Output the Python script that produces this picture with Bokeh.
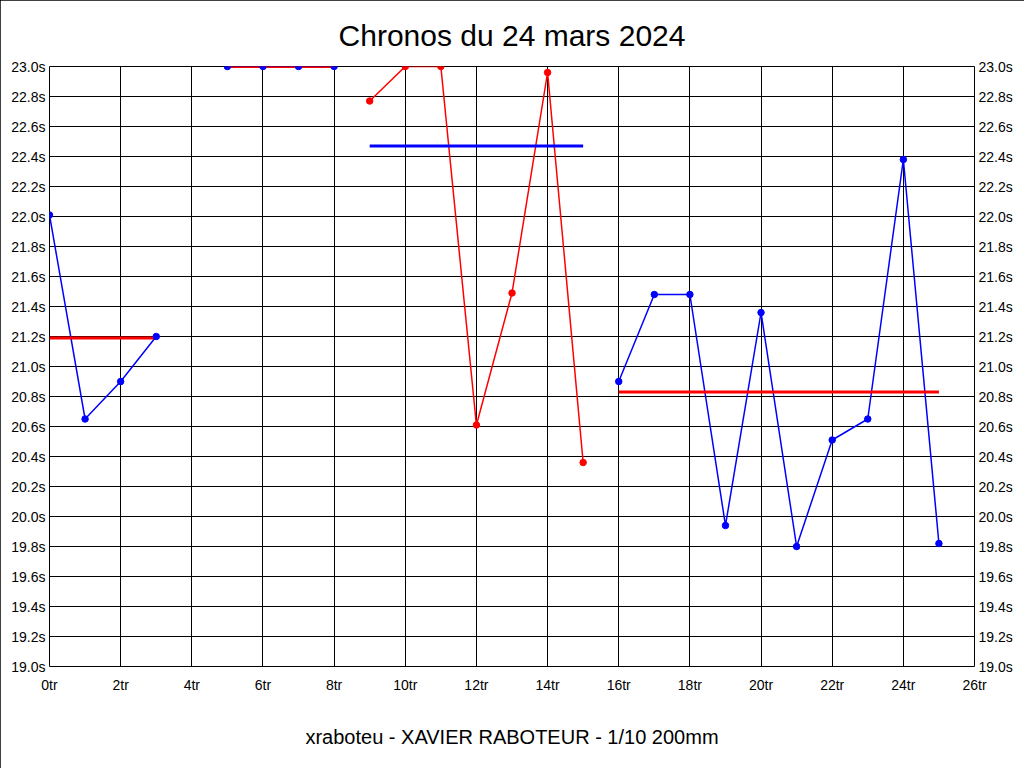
from bokeh.plotting import figure
from bokeh.models import Range1d, LinearAxis, FixedTicker, PrintfTickFormatter
from bokeh.embed import file_html
from bokeh.resources import INLINE

# ---- data ----
x_ticks = [0, 2, 4, 6, 8, 10, 12, 14, 16, 18, 20, 22, 24, 26]
y_ticks = [19.0, 19.2, 19.4, 19.6, 19.8, 20.0, 20.2, 20.4, 20.6, 20.8,
           21.0, 21.2, 21.4, 21.6, 21.8, 22.0, 22.2, 22.4, 22.6, 22.8, 23.0]

s1_x = [0, 1, 2, 3]
s1_y = [22.01, 20.65, 20.90, 21.20]
s1_avg = 21.19

s2_x = [5, 6, 7, 8]
s2_y = [23.0, 23.0, 23.0, 23.0]
s2_avg = 23.0

s3_x = [9, 10, 11, 12, 13, 14, 15]
s3_y = [22.77, 23.0, 23.0, 20.61, 21.49, 22.96, 20.36]
s3_avg = 22.47

s4_x = [16, 17, 18, 19, 20, 21, 22, 23, 24, 25]
s4_y = [20.90, 21.48, 21.48, 19.94, 21.36, 19.80, 20.51, 20.65, 22.38, 19.82]
s4_avg = 20.83

title_text = "Chronos du 24 mars 2024"
footer_text = "xraboteu - XAVIER RABOTEUR - 1/10 200mm"

BLUE = "#0000FF"
RED = "#FF0000"

series = [
    (s1_x, s1_y, s1_avg, BLUE, RED),
    (s2_x, s2_y, s2_avg, BLUE, RED),
    (s3_x, s3_y, s3_avg, RED, BLUE),
    (s4_x, s4_y, s4_avg, BLUE, RED),
]

FONT = "Liberation Sans"

p = figure(width=1024, height=768, output_backend="svg", toolbar_location=None,
           x_range=Range1d(0, 26), y_range=Range1d(19, 23),
           min_border_left=49, min_border_right=50, min_border_top=66,
           min_border_bottom=102, x_axis_location="below", y_axis_location="left")
p.styles = {"outline": "1px solid black", "outline-offset": "-1px"}
p.background_fill_color = "white"
p.border_fill_color = "white"
p.outline_line_color = "black"
p.outline_line_width = 1
p.outline_line_alpha = 1.0

p.title.text = title_text
p.title.align = "center"
p.title.text_font = FONT
p.title.text_font_size = "30px"
p.title.text_font_style = "normal"
p.title.text_color = "black"
p.title.standoff = 30

right_axis = LinearAxis()
p.add_layout(right_axis, "right")

for ax in [p.yaxis[0], right_axis]:
    ax.ticker = FixedTicker(ticks=y_ticks)
    ax.formatter = PrintfTickFormatter(format="%.1fs")

for ax in list(p.yaxis) + list(p.xaxis):
    ax.axis_line_color = None
    ax.major_tick_line_color = None
    ax.minor_tick_line_color = None
    ax.major_tick_out = 0
    ax.major_tick_in = 0
    ax.major_label_text_font = FONT
    ax.major_label_text_font_size = "14px"
    ax.major_label_text_color = "black"
    ax.major_label_standoff = 4

xa = p.xaxis[0]
xa.ticker = FixedTicker(ticks=x_ticks)
xa.formatter = PrintfTickFormatter(format="%dtr")
xa.major_label_standoff = 10
xa.axis_label = footer_text
xa.axis_label_text_font = FONT
xa.axis_label_text_font_size = "20px"
xa.axis_label_text_font_style = "normal"
xa.axis_label_text_color = "black"
xa.axis_label_standoff = 30

p.xgrid.ticker = FixedTicker(ticks=x_ticks)
p.ygrid.ticker = FixedTicker(ticks=y_ticks)
for g in [p.xgrid[0], p.ygrid[0]]:
    g.grid_line_color = "black"
    g.grid_line_alpha = 1.0
    g.grid_line_width = 1

# series lines
for xs, ys, avg, c, ac in series:
    p.line(xs, ys, line_color=c, line_width=1.5)
# average lines
for xs, ys, avg, c, ac in series:
    p.line([xs[0], xs[-1]], [avg, avg], line_color=ac, line_width=3)
# points
for xs, ys, avg, c, ac in series:
    p.scatter(xs, ys, size=6.5, fill_color=c, line_color=c, marker="circle")

open("out.html", "w").write(file_html(p, INLINE))
